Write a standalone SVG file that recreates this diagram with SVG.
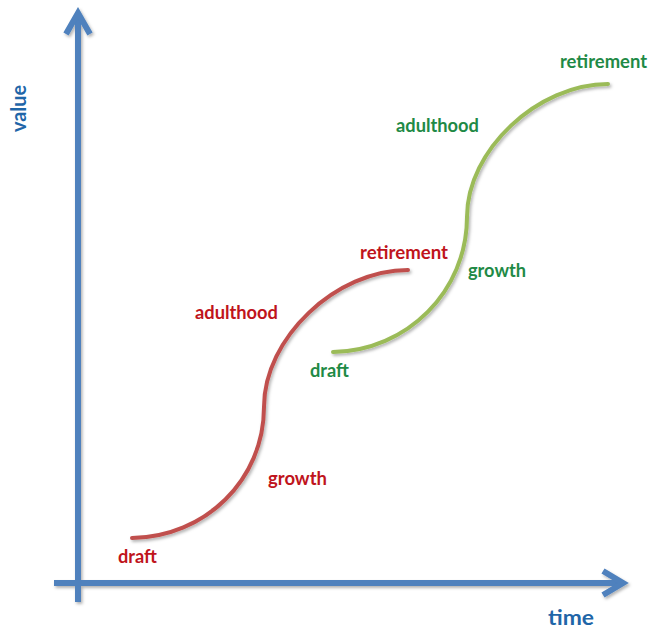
<svg xmlns="http://www.w3.org/2000/svg" width="649" height="634" viewBox="0 0 649 634">
  <defs>
    <filter id="shadow" x="-10%" y="-10%" width="130%" height="130%">
      <feDropShadow dx="1.5" dy="2" stdDeviation="1.5" flood-color="#000" flood-opacity="0.3"/>
    </filter>
  </defs>
  <style>
    .axis { fill: none; stroke: #4F81BD; stroke-width: 6; }
    .curve { fill: none; stroke-width: 4; stroke-linecap: round; }
    .red { stroke: #C0504D; }
    .green { stroke: #9BBB59; }
    text { font-family: Lato, "Liberation Sans", sans-serif; font-weight: bold; font-size: 19px; }
    .tred { fill: #C0141C; }
    .tgreen { fill: #1F8A46; }
    .tblue { fill: #1F66A8; font-size: 21px; }
  </style>
  <rect width="649" height="634" fill="#fff"/>
  <g id="axes" filter="url(#shadow)">
    <line class="axis" x1="78" y1="602" x2="78" y2="12"/>
    <polyline class="axis" points="66,34 78,13 90,34" stroke-linejoin="miter"/>
    <line class="axis" x1="54" y1="583" x2="624" y2="583"/>
    <polyline class="axis" points="603,571 623,583 603,595" stroke-linejoin="miter"/>
  </g>
  <g id="red-curve" filter="url(#shadow)">
    <path class="curve red" d="M132,538 C205,537 264,480 264,407 C264,338 336,270 408,270"/>
  </g>
  <g id="green-curve" filter="url(#shadow)">
    <path class="curve green" d="M333,352 C407,351 467,291 467,217 C467,150 538,84 608,84"/>
  </g>
  <g id="axis-labels">
    <text class="tblue" transform="translate(26,132) rotate(-90)" textLength="47" lengthAdjust="spacingAndGlyphs">value</text>
    <text class="tblue" x="548" y="625" textLength="46" lengthAdjust="spacingAndGlyphs">time</text>
  </g>
  <g id="red-labels">
    <text class="tred" x="118" y="563" textLength="39" lengthAdjust="spacingAndGlyphs">draft</text>
    <text class="tred" x="268" y="485" textLength="59" lengthAdjust="spacingAndGlyphs">growth</text>
    <text class="tred" x="195" y="319" textLength="83" lengthAdjust="spacingAndGlyphs">adulthood</text>
    <text class="tred" x="360" y="259" textLength="88" lengthAdjust="spacingAndGlyphs">retirement</text>
  </g>
  <g id="green-labels">
    <text class="tgreen" x="310" y="377" textLength="39" lengthAdjust="spacingAndGlyphs">draft</text>
    <text class="tgreen" x="468" y="277" textLength="58" lengthAdjust="spacingAndGlyphs">growth</text>
    <text class="tgreen" x="396" y="132" textLength="83" lengthAdjust="spacingAndGlyphs">adulthood</text>
    <text class="tgreen" x="560" y="68" textLength="87" lengthAdjust="spacingAndGlyphs">retirement</text>
  </g>
</svg>
